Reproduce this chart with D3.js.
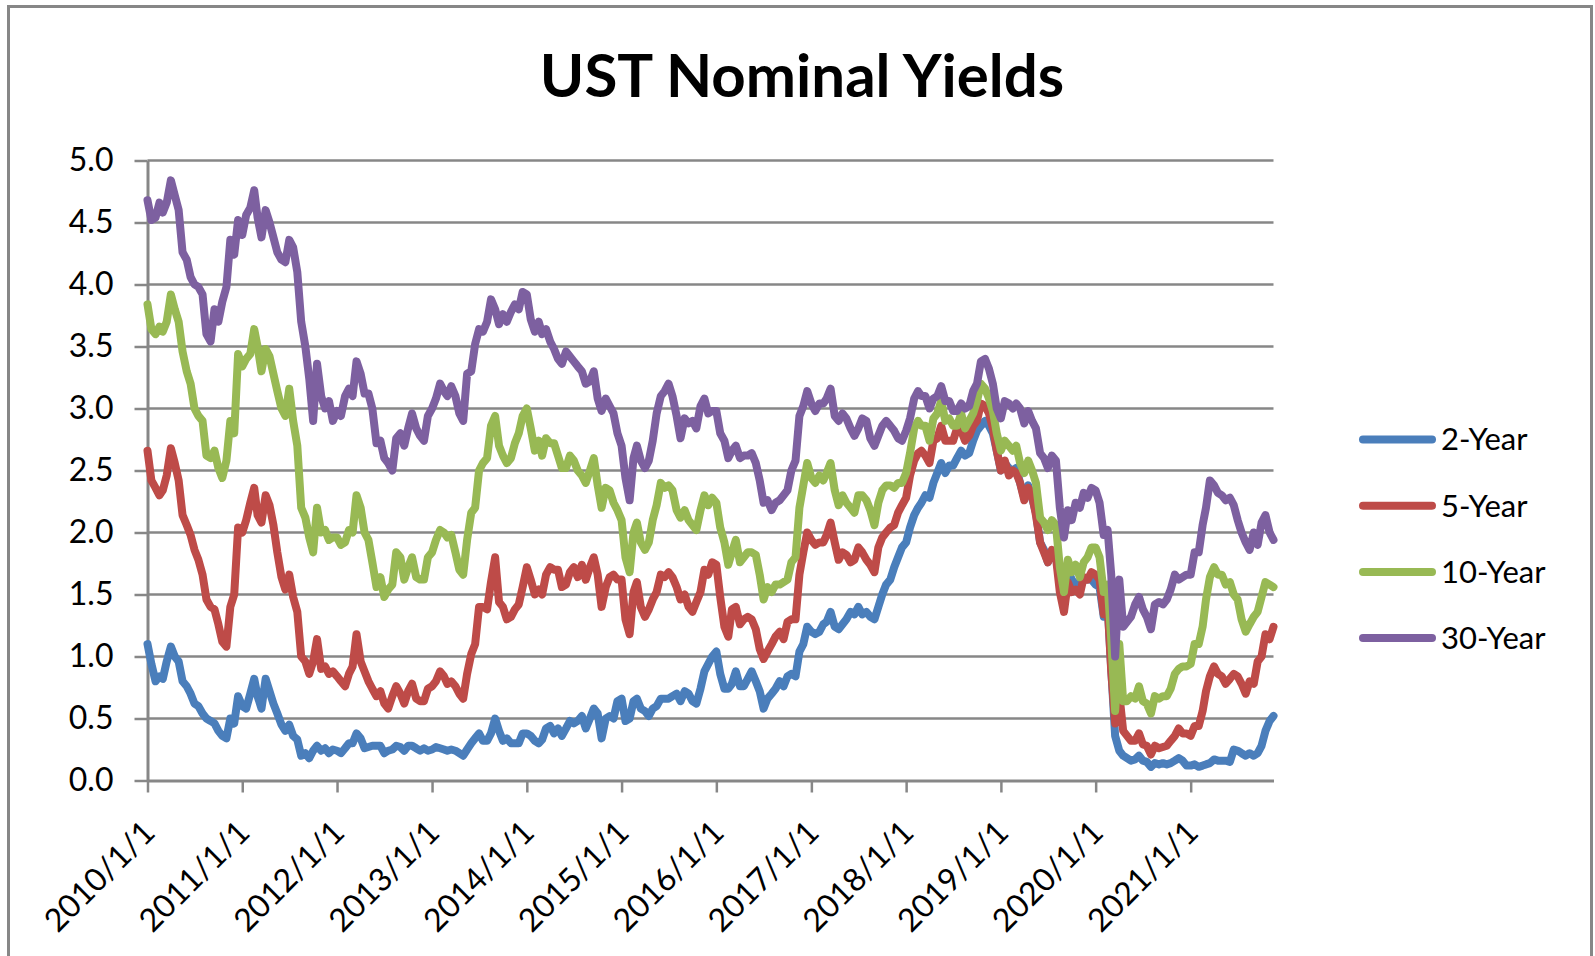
<!DOCTYPE html>
<html>
<head>
<meta charset="utf-8">
<script src="https://cdn.jsdelivr.net/npm/d3@7"></script>
<style>
  body { margin: 0; background: #fff; }
  svg { display: block; font-family: Lato, "Open Sans", sans-serif; }
</style>
</head>
<body>
<div id="chart"></div>
<script>
const seriesNames = ["2-Year", "5-Year", "10-Year", "30-Year"];
const seriesColors = ["#4a7ebb", "#be4b48", "#98b954", "#7d60a0"];
const yTicks = [0, 0.5, 1, 1.5, 2, 2.5, 3, 3.5, 4, 4.5, 5];
const xTickLabels = ["2010/1/1", "2011/1/1", "2012/1/1", "2013/1/1", "2014/1/1", "2015/1/1",
  "2016/1/1", "2017/1/1", "2018/1/1", "2019/1/1", "2020/1/1", "2021/1/1"];

const y2 = [
  1.10,0.94,0.80,0.84,0.82,0.96,1.08,1.00,0.96,0.80,0.76,0.70,0.62,0.60,0.54,0.50,0.48,0.46,0.40,0.36,0.34,0.50,0.46,0.68, // 2010
  0.60,0.58,0.70,0.82,0.68,0.58,0.82,0.72,0.62,0.54,0.45,0.40,0.45,0.36,0.33,0.20,0.22,0.18,0.24,0.28,0.24,0.26,0.22,0.25, // 2011
  0.24,0.22,0.26,0.30,0.30,0.38,0.34,0.26,0.27,0.28,0.28,0.28,0.22,0.24,0.25,0.28,0.27,0.24,0.28,0.28,0.26,0.24,0.26,0.24, // 2012
  0.25,0.27,0.26,0.25,0.24,0.25,0.24,0.22,0.20,0.25,0.30,0.34,0.38,0.32,0.32,0.38,0.50,0.40,0.32,0.34,0.30,0.30,0.30,0.38, // 2013
  0.38,0.36,0.32,0.30,0.33,0.42,0.44,0.38,0.42,0.36,0.42,0.48,0.46,0.48,0.52,0.42,0.50,0.58,0.54,0.34,0.50,0.52,0.50,0.64, // 2014
  0.66,0.48,0.50,0.64,0.66,0.58,0.56,0.52,0.58,0.60,0.66,0.66,0.66,0.68,0.70,0.64,0.72,0.70,0.64,0.62,0.74,0.88,0.94,1.00, // 2015
  1.04,0.86,0.74,0.74,0.78,0.88,0.76,0.76,0.82,0.88,0.80,0.72,0.58,0.66,0.70,0.74,0.80,0.76,0.84,0.86,0.84,1.04,1.10,1.24, // 2016
  1.20,1.18,1.20,1.26,1.28,1.36,1.24,1.22,1.26,1.30,1.36,1.34,1.40,1.34,1.36,1.32,1.30,1.40,1.50,1.58,1.62,1.72,1.80,1.88, // 2017
  1.92,2.04,2.14,2.20,2.24,2.30,2.28,2.40,2.48,2.56,2.48,2.54,2.54,2.60,2.66,2.62,2.64,2.74,2.82,2.86,2.90,2.86,2.80,2.66, // 2018
  2.50,2.56,2.52,2.50,2.52,2.40,2.28,2.38,2.28,2.16,1.92,1.86,1.76,1.84,1.80,1.62,1.52,1.70,1.62,1.58,1.60,1.62,1.62,1.62, // 2019
  1.58,1.56,1.32,1.42,0.90,0.36,0.24,0.20,0.18,0.16,0.17,0.20,0.16,0.15,0.11,0.14,0.13,0.14,0.13,0.14,0.16,0.18,0.16,0.12, // 2020
  0.12,0.13,0.11,0.12,0.13,0.14,0.17,0.16,0.16,0.16,0.15,0.25,0.24,0.22,0.20,0.22,0.20,0.22,0.28,0.40,0.48,0.52            // 2021
];

const y5 = [
  2.66,2.42,2.36,2.30,2.34,2.46,2.68,2.56,2.42,2.14,2.06,1.98,1.86,1.78,1.66,1.46,1.40,1.38,1.26,1.12,1.08,1.40,1.50,2.04,
  2.00,2.10,2.24,2.36,2.14,2.08,2.30,2.22,2.06,1.84,1.64,1.54,1.66,1.48,1.36,1.00,0.96,0.86,0.96,1.14,0.90,0.92,0.86,0.88,
  0.84,0.80,0.76,0.86,0.92,1.18,0.96,0.88,0.80,0.74,0.68,0.72,0.62,0.58,0.68,0.76,0.70,0.62,0.72,0.78,0.66,0.64,0.64,0.74,
  0.76,0.80,0.88,0.84,0.78,0.80,0.76,0.70,0.66,0.86,1.02,1.10,1.40,1.40,1.38,1.60,1.80,1.44,1.40,1.30,1.32,1.38,1.42,1.56,
  1.72,1.62,1.50,1.54,1.50,1.66,1.72,1.70,1.70,1.56,1.58,1.68,1.72,1.64,1.74,1.62,1.72,1.80,1.66,1.40,1.56,1.64,1.66,1.62,
  1.62,1.30,1.18,1.52,1.60,1.40,1.32,1.38,1.46,1.52,1.66,1.64,1.68,1.64,1.56,1.46,1.50,1.40,1.36,1.44,1.52,1.70,1.66,1.76,
  1.74,1.48,1.24,1.16,1.38,1.40,1.26,1.30,1.32,1.30,1.22,1.06,0.98,1.04,1.10,1.16,1.20,1.14,1.28,1.30,1.30,1.66,1.84,2.00,
  1.94,1.90,1.92,1.92,1.98,2.08,1.92,1.78,1.84,1.82,1.76,1.78,1.88,1.84,1.78,1.74,1.68,1.88,1.96,2.00,2.04,2.06,2.16,2.22,
  2.28,2.46,2.58,2.64,2.66,2.62,2.56,2.74,2.76,2.86,2.74,2.74,2.74,2.84,2.82,2.74,2.78,2.86,2.90,3.04,3.02,2.96,2.84,2.66,
  2.50,2.58,2.46,2.50,2.48,2.40,2.26,2.36,2.30,2.14,1.92,1.84,1.76,1.86,1.80,1.52,1.36,1.60,1.52,1.54,1.50,1.64,1.62,1.68,
  1.66,1.62,1.34,1.42,0.88,0.46,0.70,0.40,0.36,0.32,0.32,0.38,0.29,0.28,0.21,0.28,0.26,0.27,0.28,0.32,0.36,0.42,0.38,0.38,
  0.36,0.44,0.44,0.56,0.72,0.84,0.92,0.86,0.84,0.78,0.82,0.86,0.84,0.78,0.70,0.80,0.78,0.96,1.00,1.18,1.14,1.24
];

const y10 = [
  3.84,3.64,3.60,3.66,3.62,3.70,3.92,3.80,3.70,3.46,3.30,3.20,3.00,2.94,2.90,2.62,2.60,2.66,2.52,2.44,2.58,2.90,2.80,3.44,
  3.34,3.40,3.44,3.64,3.50,3.30,3.48,3.42,3.28,3.14,3.00,2.94,3.16,2.90,2.70,2.20,2.12,1.96,1.84,2.20,2.00,2.02,1.94,1.96,
  1.96,1.90,1.92,2.02,2.00,2.30,2.20,2.00,1.94,1.76,1.56,1.64,1.48,1.54,1.58,1.84,1.80,1.62,1.72,1.80,1.64,1.62,1.62,1.80,
  1.84,1.94,2.02,2.00,1.96,1.98,1.84,1.70,1.66,1.94,2.16,2.20,2.50,2.56,2.60,2.86,2.94,2.70,2.62,2.56,2.60,2.72,2.80,2.94,
  3.00,2.84,2.66,2.74,2.62,2.76,2.72,2.72,2.62,2.52,2.52,2.62,2.58,2.50,2.46,2.40,2.50,2.60,2.38,2.20,2.36,2.34,2.24,2.18,
  2.10,1.80,1.68,2.00,2.08,1.92,1.86,1.92,2.10,2.22,2.40,2.36,2.38,2.34,2.18,2.12,2.18,2.10,2.06,2.02,2.18,2.30,2.22,2.28,
  2.24,2.04,1.92,1.74,1.84,1.94,1.76,1.80,1.84,1.84,1.82,1.66,1.46,1.56,1.52,1.58,1.58,1.60,1.62,1.76,1.80,2.20,2.38,2.56,
  2.44,2.40,2.46,2.42,2.48,2.56,2.34,2.22,2.30,2.24,2.20,2.16,2.30,2.30,2.26,2.18,2.06,2.24,2.34,2.38,2.38,2.36,2.40,2.40,
  2.48,2.64,2.84,2.90,2.86,2.86,2.74,2.92,2.96,3.06,2.90,2.92,2.86,2.86,2.96,2.84,2.90,2.96,3.06,3.20,3.16,3.08,2.98,2.80,
  2.66,2.74,2.70,2.66,2.70,2.56,2.48,2.58,2.50,2.40,2.12,2.08,2.02,2.10,2.06,1.72,1.52,1.78,1.68,1.74,1.64,1.76,1.80,1.88,
  1.88,1.80,1.52,1.58,1.14,0.56,1.10,0.64,0.64,0.68,0.66,0.76,0.64,0.62,0.54,0.68,0.66,0.68,0.68,0.74,0.86,0.90,0.92,0.92,
  0.94,1.10,1.10,1.24,1.46,1.64,1.72,1.66,1.66,1.58,1.60,1.50,1.46,1.30,1.20,1.26,1.32,1.36,1.48,1.60,1.58,1.56
];

const y30 = [
  4.68,4.52,4.54,4.66,4.58,4.66,4.84,4.72,4.60,4.26,4.20,4.06,4.00,3.98,3.92,3.60,3.54,3.80,3.70,3.86,3.98,4.36,4.24,4.52,
  4.40,4.56,4.62,4.76,4.54,4.38,4.60,4.50,4.38,4.26,4.20,4.18,4.36,4.30,4.10,3.70,3.50,3.24,2.90,3.36,3.10,3.00,3.06,2.90,
  2.98,2.94,3.10,3.16,3.10,3.38,3.28,3.12,3.12,3.00,2.72,2.74,2.60,2.56,2.50,2.76,2.80,2.70,2.84,2.96,2.84,2.78,2.74,2.94,
  3.00,3.08,3.20,3.14,3.10,3.18,3.10,2.96,2.90,3.28,3.30,3.52,3.64,3.62,3.70,3.88,3.80,3.68,3.76,3.70,3.78,3.84,3.80,3.94,
  3.92,3.72,3.62,3.70,3.60,3.64,3.54,3.48,3.40,3.36,3.46,3.42,3.38,3.34,3.30,3.20,3.22,3.30,3.08,2.98,3.08,3.02,2.96,2.80,
  2.70,2.44,2.26,2.60,2.70,2.58,2.52,2.58,2.74,2.96,3.10,3.14,3.20,3.10,2.94,2.76,2.92,2.88,2.90,2.84,3.02,3.08,2.96,2.98,
  2.98,2.80,2.74,2.60,2.66,2.70,2.60,2.62,2.62,2.64,2.56,2.42,2.24,2.26,2.18,2.24,2.26,2.30,2.34,2.50,2.58,2.94,3.02,3.14,
  3.04,2.98,3.04,3.04,3.08,3.16,2.94,2.90,2.96,2.92,2.84,2.78,2.84,2.92,2.90,2.76,2.70,2.78,2.86,2.90,2.86,2.82,2.76,2.74,
  2.82,2.92,3.08,3.14,3.10,3.10,3.00,3.08,3.10,3.18,3.06,3.06,2.98,2.98,3.04,3.00,3.02,3.14,3.20,3.38,3.40,3.32,3.20,3.00,
  2.92,3.06,3.04,3.00,3.04,3.00,2.88,2.98,2.90,2.84,2.64,2.60,2.52,2.62,2.58,2.20,1.96,2.18,2.10,2.24,2.20,2.32,2.28,2.36,
  2.34,2.24,1.98,2.02,1.66,1.00,1.62,1.24,1.28,1.32,1.42,1.48,1.38,1.32,1.22,1.42,1.44,1.42,1.46,1.54,1.66,1.62,1.64,1.66,
  1.66,1.84,1.84,2.06,2.20,2.42,2.38,2.32,2.30,2.26,2.28,2.22,2.10,2.00,1.92,1.86,2.00,1.90,2.08,2.14,2.00,1.94
];

const seriesValues = [y2, y5, y10, y30];

// reading dates: 1st and 16th of every month
const dates = d3.utcMonth.range(new Date(Date.UTC(2010, 0, 1)), new Date(Date.UTC(2021, 11, 1)))
  .flatMap(m => [m, d3.utcDay.offset(m, 15)]);

const width = 1595, height = 956;
const gridColor = "#878787";

const svg = d3.select("#chart").append("svg")
  .attr("width", width)
  .attr("height", height);

// outer frame
svg.append("rect")
  .attr("x", 8.5).attr("y", 6.5)
  .attr("width", 1583).attr("height", 1000)
  .attr("fill", "none")
  .attr("stroke", gridColor)
  .attr("stroke-width", 3);

svg.append("text")
  .attr("x", 802).attr("y", 97)
  .attr("text-anchor", "middle")
  .style("font-size", "60px")
  .style("font-weight", 700)
  .attr("fill", "#000")
  .text("UST Nominal Yields");

const x = d3.scaleUtc()
  .domain([dates[0], dates[dates.length - 1]])
  .range([147.5, 1273.5]);

const y = d3.scaleLinear()
  .domain([0, 5])
  .range([780.5, 160.5]);

// horizontal gridlines
svg.append("g")
  .selectAll("line")
  .data(yTicks.filter(t => t > 0))
  .enter()
  .append("line")
    .attr("x1", 147.5).attr("x2", 1273.5)
    .attr("y1", d => y(d)).attr("y2", d => y(d))
    .attr("stroke", gridColor)
    .attr("stroke-width", 2.5);

// y axis
const yAxis = svg.append("g")
  .attr("transform", "translate(147.5,0)")
  .call(d3.axisLeft(y).tickValues(yTicks).tickFormat(d3.format(".1f"))
    .tickSize(13).tickPadding(21).tickSizeOuter(0));

// x axis
const parseLabel = d3.utcParse("%Y/%m/%d");
const tickDates = xTickLabels.map(s => parseLabel(s));
const xAxis = svg.append("g")
  .attr("transform", "translate(0,780.5)")
  .call(d3.axisBottom(x).tickValues(tickDates).tickFormat((d, i) => xTickLabels[i])
    .tickSize(12).tickSizeOuter(0));

xAxis.selectAll("text")
  .attr("y", 0)
  .attr("dy", "0.35em")
  .attr("text-anchor", "end")
  .attr("transform", "translate(1,46) rotate(-45)");

[xAxis, yAxis].forEach(g => {
  g.attr("font-family", null).attr("font-size", null);
  g.selectAll("path, line").attr("stroke", gridColor).attr("stroke-width", 2.5);
  g.select(".domain").attr("stroke-width", 3);
  g.selectAll("text").attr("fill", "#000").style("font-size", "32px");
});

// series lines
const line = d3.line()
  .x((d, i) => x(dates[i]))
  .y(d => y(d));

svg.append("g")
  .selectAll("path")
  .data(seriesValues)
  .enter()
  .append("path")
    .attr("d", d => line(d))
    .attr("fill", "none")
    .attr("stroke", (d, i) => seriesColors[i])
    .attr("stroke-width", 8)
    .attr("stroke-linejoin", "round")
    .attr("stroke-linecap", "round");

// legend
const legend = svg.append("g")
  .selectAll("g")
  .data(seriesNames)
  .enter()
  .append("g")
    .attr("transform", (d, i) => `translate(0,${439.5 + i * 66.2})`);

legend.append("line")
  .attr("x1", 1363).attr("x2", 1432)
  .attr("stroke", (d, i) => seriesColors[i])
  .attr("stroke-width", 8)
  .attr("stroke-linecap", "round");

legend.append("text")
  .attr("x", 1441)
  .attr("dy", "0.35em")
  .style("font-size", "31px")
  .attr("fill", "#000")
  .text(d => d);
</script>
</body>
</html>
